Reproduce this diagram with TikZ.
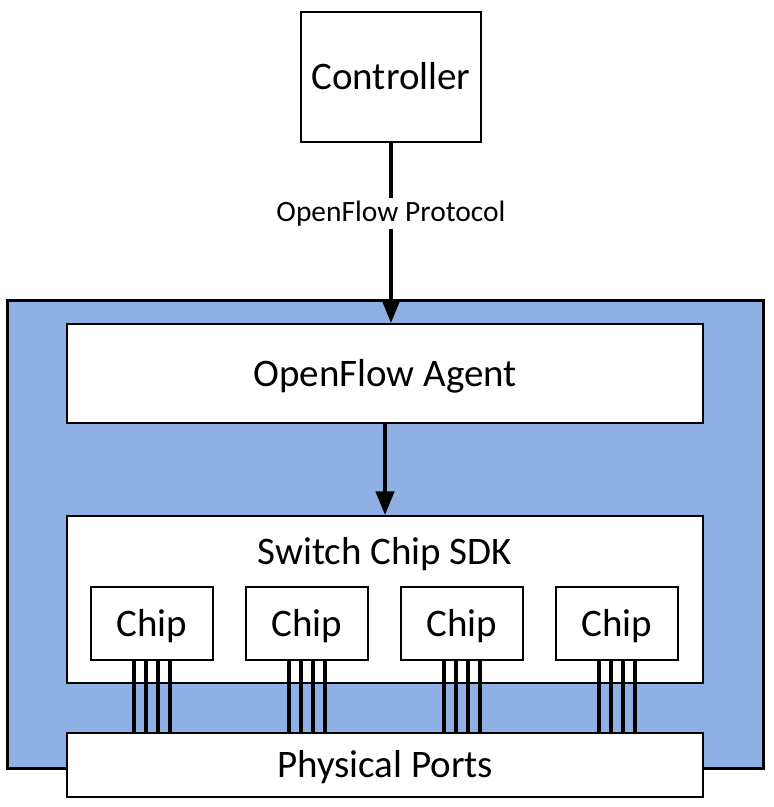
\documentclass[tikz,border=0pt]{standalone}
\usepackage{fontspec}
\setmainfont{Carlito}
\usepackage{tikz}
\usetikzlibrary{arrows.meta,positioning}
\definecolor{switchblue}{RGB}{142,176,227}

\begin{document}
\begin{tikzpicture}[
x=1pt, y=-1pt,
box/.style={
		draw=black,
		line width=1.5pt,
		fill=white,
		inner sep=0pt,
		text centered,
		text height=25pt,
		text depth=0pt,
		font=\fontsize{39}{44}\selectfont,
		},
wire/.style={line width=4.5pt},
flow/.style={line width=4.5pt, -{Triangle[width=18pt,length=24pt]}}
]

\def \chipw {122}
\def \chiph {73}

\useasboundingbox (0,0) rectangle (774,807);

% switch body
\draw[fill=switchblue, line width=3pt] (7,300) rectangle (763,768);

\node[box, minimum width=180pt, minimum height=130pt] (ctrl) at (391,77) {Controller};
\node[box, minimum width=636pt, minimum height=99pt] (agent) at (385,373.5) {OpenFlow Agent};
\node[box, minimum width=636pt, minimum height=167pt] (sdk) at (385,599.5) {};
\node[font=\fontsize{39}{44}\selectfont, text height=25pt, text depth=0pt, inner sep=0pt] (sdktext) at (385,552) {Switch Chip SDK};
\node[box, minimum width=636pt, minimum height=64pt] (ports) at (385,765) {Physical Ports};

\draw[flow] (ctrl.south) -- node (proto) [pos=0.39, fill=white, inner sep=3pt,
    font=\fontsize{29.5}{34}\selectfont] {OpenFlow Protocol} (ctrl.south |- agent.north);
\draw[flow] (agent.south) -- (sdk.north);

\foreach \x [count=\i] in {152,307,462,617}
{
  \node[box, minimum width=\chipw pt, minimum height=\chiph pt] (chip\i) at (\x,623.5) {Chip};
  \foreach \o in {-18,-6,6,18}
    \draw[wire] ([xshift=\o pt]chip\i.south) -- ([xshift=\o pt]chip\i.south |- ports.north);
}

\end{tikzpicture}
\end{document}
